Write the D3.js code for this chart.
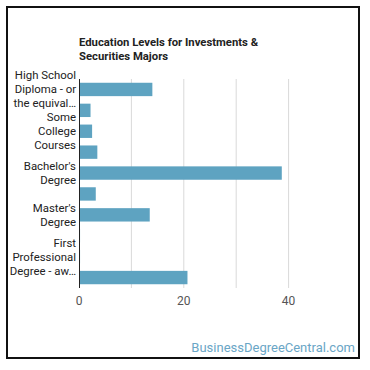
<!DOCTYPE html>
<html>
<head>
<meta charset="utf-8">
<script src="https://cdn.jsdelivr.net/npm/d3@7"></script>
<style>
  body { margin: 0; background: #fff; }
  svg { display: block; font-family: Roboto, sans-serif; }
</style>
</head>
<body>
<div id="chart"></div>
<script>
// data
var categories = [
  "High School Diploma - or the equivalent (for example, GED)",
  "Post-Secondary Certificate - awarded for training completed after high school",
  "Some College Courses",
  "Associate's Degree (or other 2-year degree)",
  "Bachelor's Degree",
  "Post-Baccalaureate Certificate",
  "Master's Degree",
  "Post-Master's Certificate",
  "First Professional Degree - awarded for completion of a program",
  "Doctoral Degree"
];
var values = [14.0, 2.2, 2.5, 3.5, 38.7, 3.2, 13.5, 0.2, 0.2, 20.7];
var xTicks = [0, 20, 40];
var gridTicks = [10, 20, 30, 40];

var W = 370, H = 370;
var margin = {top: 79, left: 79, bottom: 82, right: 29};

var svg = d3.select("#chart").append("svg")
  .attr("width", W).attr("height", H);

// frame
svg.append("rect")
  .attr("x", 7).attr("y", 7).attr("width", 352).attr("height", 351)
  .attr("fill", "none").attr("stroke", "#111").attr("stroke-width", 2);

// title
var title = svg.append("text")
  .attr("x", 79).attr("y", 46)
  .style("font-size", "11.3px").style("font-weight", "bold").attr("fill", "#222");
title.append("tspan").attr("x", 79).text("Education Levels for Investments &");
title.append("tspan").attr("x", 79).attr("dy", 14).text("Securities Majors");

var x = d3.scaleLinear().domain([0, 50]).range([margin.left, W - margin.right]);
var y = d3.scaleBand().domain(categories).range([margin.top, H - margin.bottom])
  .paddingInner(0.36).paddingOuter(0.18);

// grid
svg.selectAll(".grid").data(gridTicks).enter().append("line")
  .attr("x1", function(d){ return x(d); }).attr("x2", function(d){ return x(d); })
  .attr("y1", margin.top).attr("y2", H - margin.bottom)
  .attr("stroke", "#d9d9d9").attr("stroke-width", 1);

// bars
svg.selectAll(".bar").data(values).enter().append("rect")
  .attr("x", x(0))
  .attr("y", function(d, i){ return y(categories[i]); })
  .attr("width", function(d){ return x(d) - x(0); })
  .attr("height", y.bandwidth())
  .attr("fill", "#5ea3c1");

// y axis line
svg.append("line")
  .attr("x1", x(0) + 0.5).attr("x2", x(0) + 0.5)
  .attr("y1", margin.top).attr("y2", H - margin.bottom)
  .attr("stroke", "#222").attr("stroke-width", 1);

// x tick labels
svg.selectAll(".xt").data(xTicks).enter().append("text")
  .attr("x", function(d){ return x(d); })
  .attr("y", 305)
  .attr("text-anchor", "middle")
  .style("font-size", "12px").attr("fill", "#555")
  .text(function(d){ return d; });

// category labels: wrap to 3 lines, ellipsis, every other shown
var maxW = 68, lineH = 14, fs = "11.4px";
var measure = svg.append("text").style("font-size", fs);
function textW(s) { measure.text(s); return measure.node().getComputedTextLength(); }
function wrap(label) {
  var words = label.split(" "), lines = [], cur = "";
  words.forEach(function(w){
    var t = cur ? cur + " " + w : w;
    if (textW(t) > maxW && cur) { lines.push(cur); cur = w; } else cur = t;
  });
  if (cur) lines.push(cur);
  if (lines.length > 3) {
    var last = lines.slice(2).join(" ");
    while (textW(last + "…") > maxW && last.length > 1) last = last.slice(0, -1);
    lines = lines.slice(0, 2).concat([last.trim() + "…"]);
  }
  return lines;
}

categories.forEach(function(c, i){
  if (i % 2 !== 0) return;
  var lines = wrap(c);
  var cy = y(c) + y.bandwidth() / 2;
  var t = svg.append("text")
    .attr("text-anchor", "end")
    .style("font-size", fs).attr("fill", "#222");
  lines.forEach(function(l, k){
    t.append("tspan").attr("x", 76)
      .attr("y", cy + (k - (lines.length - 1) / 2) * lineH + 4)
      .text(l);
  });
});
measure.remove();

// watermark
svg.append("text")
  .attr("x", 355).attr("y", 352)
  .attr("text-anchor", "end")
  .style("font-size", "13px").attr("fill", "#6aa6c6")
  .text("BusinessDegreeCentral.com");
</script>
</body>
</html>
